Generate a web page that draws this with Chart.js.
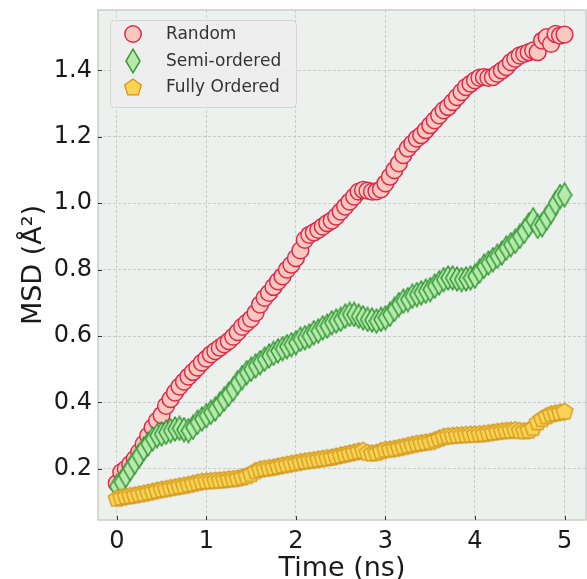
<!DOCTYPE html>
<html>
<head>
<meta charset="utf-8">
<script src="https://cdn.jsdelivr.net/npm/chart.js@4.4.1/dist/chart.umd.min.js"></script>
<style>
  html, body { margin: 0; padding: 0; background: #ffffff; }
  #grafico { display: block; }
</style>
</head>
<body>
<canvas id="grafico" width="587" height="579"></canvas>
<script>
// datos
let tiempo = [
  0, 0.05, 0.1, 0.15, 0.2, 0.25, 0.3, 0.35, 0.4, 0.45,
  0.5, 0.55, 0.6, 0.65, 0.7, 0.75, 0.8, 0.85, 0.9, 0.95,
  1, 1.05, 1.1, 1.15, 1.2, 1.25, 1.3, 1.35, 1.4, 1.45,
  1.5, 1.55, 1.6, 1.65, 1.7, 1.75, 1.8, 1.85, 1.9, 1.95,
  2, 2.05, 2.1, 2.15, 2.2, 2.25, 2.3, 2.35, 2.4, 2.45,
  2.5, 2.55, 2.6, 2.65, 2.7, 2.75, 2.8, 2.85, 2.9, 2.95,
  3, 3.05, 3.1, 3.15, 3.2, 3.25, 3.3, 3.35, 3.4, 3.45,
  3.5, 3.55, 3.6, 3.65, 3.7, 3.75, 3.8, 3.85, 3.9, 3.95,
  4, 4.05, 4.1, 4.15, 4.2, 4.25, 4.3, 4.35, 4.4, 4.45,
  4.5, 4.55, 4.6, 4.65, 4.7, 4.75, 4.8, 4.85, 4.9, 4.95,
  5,
];

let msdRandom = [
  0.157, 0.19, 0.2, 0.215, 0.23, 0.25, 0.275, 0.3, 0.325, 0.345,
  0.362, 0.39, 0.41, 0.43, 0.448, 0.463, 0.478, 0.492, 0.505, 0.52,
  0.532, 0.545, 0.555, 0.565, 0.575, 0.585, 0.598, 0.612, 0.628, 0.64,
  0.652, 0.67, 0.695, 0.715, 0.73, 0.748, 0.765, 0.78, 0.8, 0.815,
  0.835, 0.858, 0.89, 0.905, 0.912, 0.92, 0.93, 0.94, 0.948, 0.96,
  0.975, 0.99, 1.005, 1.02, 1.035, 1.04, 1.038, 1.035, 1.036, 1.042,
  1.06, 1.08, 1.1, 1.12, 1.145, 1.165, 1.18, 1.195, 1.205, 1.22,
  1.235, 1.25, 1.265, 1.28, 1.29, 1.305, 1.32, 1.335, 1.35, 1.36,
  1.37, 1.378, 1.38, 1.378, 1.38, 1.39, 1.4, 1.41, 1.425, 1.435,
  1.445, 1.45, 1.455, 1.46, 1.455, 1.49, 1.5, 1.48, 1.51, 1.505,
  1.508,
];

let msdSemi = [
  0.147, 0.16, 0.18, 0.2, 0.22, 0.24, 0.26, 0.275, 0.29, 0.3,
  0.305, 0.31, 0.315, 0.32, 0.322, 0.318, 0.315, 0.325, 0.34, 0.35,
  0.36, 0.37, 0.38, 0.395, 0.41, 0.425, 0.44, 0.46, 0.475, 0.49,
  0.5, 0.51, 0.52, 0.53, 0.54, 0.548, 0.555, 0.562, 0.568, 0.574,
  0.58, 0.59, 0.595, 0.6, 0.61, 0.615, 0.625, 0.63, 0.64, 0.645,
  0.65, 0.66, 0.665, 0.665, 0.66, 0.655, 0.65, 0.648, 0.645, 0.65,
  0.655, 0.665, 0.68, 0.695, 0.705, 0.71, 0.72, 0.725, 0.73, 0.735,
  0.74, 0.75, 0.76, 0.77, 0.775, 0.775, 0.772, 0.77, 0.772, 0.775,
  0.78, 0.795, 0.81, 0.82, 0.83, 0.84, 0.85, 0.865, 0.875, 0.885,
  0.9, 0.915, 0.935, 0.95, 0.93, 0.935, 0.955, 0.975, 1.0, 1.02,
  1.025,
];

let msdFully = [
  0.112, 0.115, 0.118, 0.12, 0.122, 0.125, 0.127, 0.13, 0.133, 0.136,
  0.139, 0.141, 0.144, 0.146, 0.149, 0.151, 0.154, 0.157, 0.16, 0.163,
  0.164, 0.165, 0.166, 0.167, 0.168, 0.17, 0.171, 0.173, 0.176, 0.18,
  0.186, 0.195, 0.2, 0.202, 0.204, 0.206, 0.209, 0.212, 0.214, 0.217,
  0.219, 0.222, 0.224, 0.226, 0.228, 0.23, 0.232, 0.234, 0.236, 0.239,
  0.242, 0.245, 0.248, 0.251, 0.254, 0.256, 0.25, 0.248, 0.25, 0.255,
  0.259, 0.26, 0.262, 0.265, 0.268, 0.271, 0.274, 0.277, 0.279, 0.281,
  0.283, 0.288, 0.293, 0.298, 0.3, 0.301, 0.302, 0.303, 0.304, 0.305,
  0.305, 0.306, 0.307, 0.309, 0.311, 0.313, 0.315, 0.316, 0.317, 0.318,
  0.316, 0.315, 0.317, 0.325, 0.342, 0.352, 0.36, 0.366, 0.369, 0.371,
  0.374,
];

let nombres = ["Random", "Semi-ordered", "Fully Ordered"];
let ticksX = [0, 1, 2, 3, 4, 5];
let ticksY = [0.2, 0.4, 0.6, 0.8, 1.0, 1.2, 1.4];

// colores
let fondoPlot = "#edf1ee";
let colorGrid = "#c0c3c0";
let colorTexto = "#1a1a1a";
let rojoRelleno = "#fac8be";
let rojoBorde = "#dc2c4c";
let verdeRelleno = "#b6ebad";
let verdeBorde = "#389838";
let amarilloRelleno = "#fad352";
let amarilloBorde = "#d0961e";

// marcadores hechos a mano (diamante fino y pentagono)
function marcador(w, h, dibujar) {
  var c = document.createElement("canvas");
  c.width = w;
  c.height = h;
  dibujar(c.getContext("2d"));
  return c;
}

let diamante = marcador(16, 26, function (g) {
  g.beginPath();
  g.moveTo(8, 1.2);
  g.lineTo(15, 13);
  g.lineTo(8, 24.8);
  g.lineTo(1, 13);
  g.closePath();
  g.fillStyle = verdeRelleno;
  g.fill();
  g.lineWidth = 1.5;
  g.strokeStyle = verdeBorde;
  g.stroke();
});

let pentagono = marcador(20, 20, function (g) {
  g.beginPath();
  for (let k = 0; k < 5; k++) {
    let a = -Math.PI / 2 + (k * 2 * Math.PI) / 5;
    let px = 10 + 8.8 * Math.cos(a);
    let py = 10.8 + 8.8 * Math.sin(a);
    if (k == 0) g.moveTo(px, py);
    else g.lineTo(px, py);
  }
  g.closePath();
  g.fillStyle = amarilloRelleno;
  g.fill();
  g.lineWidth = 1.3;
  g.strokeStyle = amarilloBorde;
  g.stroke();
});

function puntos(serie) {
  return tiempo.map((t, i) => ({ x: t, y: serie[i] }));
}

// fondo, marco, ticks internos y leyenda
let decoracion = {
  id: "decoracion",
  beforeDraw(chart) {
    let ctx = chart.ctx;
    let a = chart.chartArea;
    ctx.save();
    ctx.fillStyle = "#ffffff";
    ctx.fillRect(0, 0, chart.width, chart.height);
    ctx.fillStyle = fondoPlot;
    ctx.fillRect(a.left, a.top, a.right - a.left, a.bottom - a.top);
    ctx.restore();
  },
  afterDraw(chart) {
    let ctx = chart.ctx;
    let a = chart.chartArea;
    let sx = chart.scales.x;
    let sy = chart.scales.y;
    ctx.save();
    // marco
    ctx.strokeStyle = "#cccccc";
    ctx.lineWidth = 1.5;
    ctx.strokeRect(a.left, a.top, a.right - a.left, a.bottom - a.top);
    // ticks hacia adentro
    ctx.strokeStyle = "#333333";
    ctx.lineWidth = 1;
    ticksX.forEach((v) => {
      let px = Math.round(sx.getPixelForValue(v)) + 0.5;
      ctx.beginPath();
      ctx.moveTo(px, a.bottom);
      ctx.lineTo(px, a.bottom - 4);
      ctx.stroke();
    });
    ticksY.forEach((v) => {
      let py = Math.round(sy.getPixelForValue(v)) + 0.5;
      ctx.beginPath();
      ctx.moveTo(a.left, py);
      ctx.lineTo(a.left + 4, py);
      ctx.stroke();
    });

    // leyenda
    let lx = 110, ly = 20, lw = 186, lh = 87;
    ctx.fillStyle = "rgba(236, 237, 236, 0.9)";
    ctx.strokeStyle = "#d6d6d6";
    ctx.lineWidth = 1;
    ctx.beginPath();
    ctx.roundRect(lx + 0.5, ly + 0.5, lw, lh, 4);
    ctx.fill();
    ctx.stroke();

    let filas = [34, 61, 87];
    // circulo
    ctx.beginPath();
    ctx.arc(133, filas[0], 8.2, 0, Math.PI * 2);
    ctx.fillStyle = rojoRelleno;
    ctx.fill();
    ctx.lineWidth = 1.5;
    ctx.strokeStyle = rojoBorde;
    ctx.stroke();
    ctx.drawImage(diamante, 133 - 8, filas[1] - 13);
    ctx.drawImage(pentagono, 133 - 10, filas[2] - 10);

    ctx.fillStyle = "#333333";
    ctx.font = "17px 'DejaVu Sans'";
    ctx.textBaseline = "middle";
    ctx.textAlign = "left";
    nombres.forEach((n, i) => {
      ctx.fillText(n, 166, filas[i] + 1);
    });
    ctx.restore();
  },
};

let data = {
  datasets: [
    {
      label: nombres[0],
      data: puntos(msdRandom),
      pointStyle: "circle",
      pointRadius: 8.4,
      pointHoverRadius: 8.4,
      backgroundColor: rojoRelleno,
      borderColor: rojoBorde,
      borderWidth: 1.5,
      pointHoverBorderWidth: 1.5,
      order: 3,
    },
    {
      label: nombres[1],
      data: puntos(msdSemi),
      pointStyle: diamante,
      pointRadius: 10,
      order: 2,
    },
    {
      label: nombres[2],
      data: puntos(msdFully),
      pointStyle: pentagono,
      pointRadius: 9,
      order: 1,
    },
  ],
};

let config = {
  type: "scatter",
  data: data,
  options: {
    responsive: false,
    animation: false,
    layout: {
      autoPadding: false,
      padding: { top: 10, right: 1, left: 0, bottom: 0 },
    },
    plugins: {
      legend: { display: false },
      tooltip: { enabled: false },
    },
    scales: {
      x: {
        type: "linear",
        min: -0.21,
        max: 5.24,
        afterBuildTicks: (s) => {
          s.ticks = ticksX.map((v) => ({ value: v }));
        },
        afterFit: (s) => {
          s.height = 59;
          s.paddingLeft = 0;
          s.paddingRight = 0;
        },
        grid: { color: colorGrid, lineWidth: 0.8, drawTicks: false },
        border: { display: false, dash: [3, 2] },
        ticks: {
          color: colorTexto,
          font: { family: "'DejaVu Sans'", size: 24 },
          padding: 7,
          maxRotation: 0,
          callback: (v) => v.toString(),
        },
        title: {
          display: true,
          text: "Time (ns)",
          color: colorTexto,
          font: { family: "'DejaVu Sans'", size: 27 },
          padding: { top: 0, bottom: -6 },
        },
      },
      y: {
        type: "linear",
        min: 0.046,
        max: 1.582,
        afterBuildTicks: (s) => {
          s.ticks = ticksY.map((v) => ({ value: v }));
        },
        afterFit: (s) => {
          s.width = 98;
          s.paddingTop = 0;
          s.paddingBottom = 0;
        },
        grid: { color: colorGrid, lineWidth: 0.8, drawTicks: false },
        border: { display: false, dash: [3, 2] },
        ticks: {
          color: colorTexto,
          font: { family: "'DejaVu Sans'", size: 24 },
          padding: 6,
          callback: (v) => v.toFixed(1),
        },
        title: {
          display: true,
          text: "MSD (Å²)",
          color: colorTexto,
          font: { family: "'DejaVu Sans'", size: 27 },
          padding: { top: 18, bottom: 0 },
        },
      },
    },
  },
  plugins: [decoracion],
};

var grafico = new Chart(document.getElementById("grafico"), config);
</script>
</body>
</html>
